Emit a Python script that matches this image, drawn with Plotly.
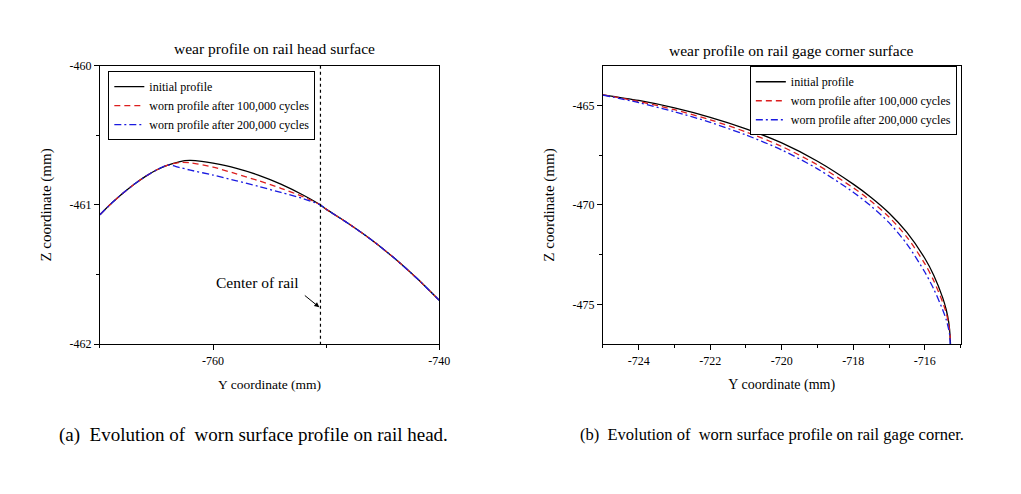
import plotly.graph_objects as go

# ---------------- Left panel: rail head surface ----------------
head_y_init = [-770, -769, -768, -767, -766, -765, -764, -763, -762.5, -762, -761, -760,
               -758, -756, -754, -752, -750.5, -750, -748, -746, -744, -742, -740]
head_z_init = [-461.07, -460.99, -460.918, -460.853, -460.796, -460.749, -460.713, -460.69,
               -460.682, -460.68, -460.687, -460.70, -460.735, -460.785, -460.85, -460.93,
               -461.0, -461.03, -461.135, -461.25, -461.38, -461.525, -461.685]

head_y_100k = [-770, -769, -768, -767, -766, -765, -764, -763, -762, -760,
               -758, -756, -754, -752, -750.5, -750, -748, -746, -744, -742, -740]
head_z_100k = [-461.07, -460.99, -460.918, -460.853, -460.796, -460.749, -460.713, -460.695,
               -460.697, -460.728, -460.775, -460.825, -460.88, -460.942, -461.0,
               -461.03, -461.135, -461.25, -461.38, -461.525, -461.685]

head_y_200k = [-770, -769, -768, -767, -766, -765, -764, -763, -762, -760,
               -758, -756, -754, -752, -750.5, -750, -748, -746, -744, -742, -740]
head_z_200k = [-461.07, -460.99, -460.918, -460.853, -460.796, -460.749, -460.713, -460.73,
               -460.75, -460.785, -460.825, -460.866, -460.91, -460.955, -461.0,
               -461.03, -461.135, -461.25, -461.38, -461.525, -461.685]

rail_center_y = -750.5

# ---------------- Right panel: rail gage corner ----------------
gage_y_init = [-725, -724, -723, -722, -721, -720, -719, -718, -717.5, -717, -716.5, -716,
               -715.75, -715.5, -715.4, -715.33, -715.3, -715.28]
gage_z_init = [-464.46, -464.745, -465.12, -465.59, -466.17, -466.88, -467.80, -468.95,
               -469.62, -470.40, -471.38, -472.68, -473.53, -474.66, -475.27, -475.90,
               -476.40, -477.0]

gage_y_100k = [-725, -724, -723, -722, -721, -720, -719, -718, -717.5, -717, -716.5, -716,
               -715.75, -715.5, -715.4, -715.33, -715.3, -715.28]
gage_z_100k = [-464.46, -464.795, -465.21, -465.717, -466.326, -467.057, -467.986, -469.135,
               -469.81, -470.603, -471.614, -472.949, -473.808, -474.887, -475.43, -475.99,
               -476.43, -477.0]

gage_y_200k = [-725, -724, -723, -722, -721, -720, -719, -718, -717.5, -717, -716.5, -716,
               -715.75, -715.5, -715.4, -715.33, -715.3, -715.29]
gage_z_200k = [-464.47, -464.854, -465.31, -465.844, -466.481, -467.234, -468.184, -469.357,
               -470.06, -470.887, -471.964, -473.372, -474.224, -475.266, -475.77, -476.27,
               -476.6, -477.0]

series_names = ["initial profile",
                "worn profile after 100,000 cycles",
                "worn profile after 200,000 cycles"]

head_xticks = [-760, -740]
head_yticks = [-462, -461, -460]
gage_xticks = [-724, -722, -720, -718, -716]
gage_yticks = [-475, -470, -465]

FONT = "Liberation Serif"
BLACK = "#000000"
RED = "#dc1e1e"
BLUE = "#1a1ae0"
styles = [dict(color=BLACK, width=1.3, dash="solid"),
          dict(color=RED, width=1.3, dash="6px,4px"),
          dict(color=BLUE, width=1.3, dash="7px,3px,2px,3px")]

fig = go.Figure()

left_data = [(head_y_init, head_z_init), (head_y_100k, head_z_100k), (head_y_200k, head_z_200k)]
right_data = [(gage_y_init, gage_z_init), (gage_y_100k, gage_z_100k), (gage_y_200k, gage_z_200k)]

for (xs, zs), name, st in zip(left_data, series_names, styles):
    fig.add_trace(go.Scatter(x=xs, y=zs, mode="lines", name=name,
                             line=dict(st, shape="spline", smoothing=0.8),
                             xaxis="x", yaxis="y", legend="legend"))

for (xs, zs), name, st in zip(right_data, series_names, styles):
    fig.add_trace(go.Scatter(x=xs, y=zs, mode="lines", name=name,
                             line=dict(st, shape="spline", smoothing=0.8),
                             xaxis="x2", yaxis="y2", legend="legend2"))

# Center of rail dotted line
fig.add_trace(go.Scatter(x=[rail_center_y, rail_center_y], y=[-460, -462], mode="lines",
                         line=dict(color=BLACK, width=1.2, dash="dot"), showlegend=False,
                         xaxis="x", yaxis="y", hoverinfo="skip"))


def lab(v):
    return ("%g" % v).replace("\u2212", "-")


axis_common = dict(showgrid=False, zeroline=False, showline=True, linecolor=BLACK,
                   linewidth=1, mirror=True, ticks="outside", ticklen=5, tickwidth=1,
                   tickcolor=BLACK, tickfont=dict(family=FONT, size=12, color=BLACK))

minor_common = dict(ticks="outside", ticklen=3, tickcolor=BLACK, tickwidth=1)

dom_y = [1 - 347 / 494, 1 - 60.5 / 494]

fig.update_layout(
    autosize=True,
    margin=dict(l=0, r=0, t=0, b=0, pad=0),
    paper_bgcolor="white", plot_bgcolor="white",
    font=dict(family=FONT, color=BLACK),
    xaxis=dict(axis_common, domain=[101 / 1021, 444 / 1021], range=[-770, -740],
               tickvals=head_xticks, ticktext=[lab(v) for v in head_xticks],
               minor=dict(minor_common, tickvals=[-770, -750]),
               title=dict(text="Y coordinate (mm)", standoff=12, font=dict(family=FONT, size=13.5, color=BLACK)),
               anchor="y"),
    yaxis=dict(axis_common, domain=dom_y, range=[-462, -460],
               tickvals=head_yticks, ticktext=[lab(v) for v in head_yticks],
               minor=dict(minor_common, tickvals=[-461.5, -460.5]),
               title=dict(text="Z coordinate (mm)", standoff=14, font=dict(family=FONT, size=15, color=BLACK)),
               anchor="x"),
    xaxis2=dict(axis_common, domain=[609.5 / 1021, 971 / 1021], range=[-725, -715],
                tickvals=gage_xticks, ticktext=[lab(v) for v in gage_xticks],
                minor=dict(minor_common, tickvals=[-725, -723, -721, -719, -717, -715]),
                title=dict(text="Y coordinate (mm)", standoff=12, font=dict(family=FONT, size=14, color=BLACK)),
                anchor="y2"),
    yaxis2=dict(axis_common, domain=dom_y, range=[-477, -463],
                tickvals=gage_yticks, ticktext=[lab(v) for v in gage_yticks],
                minor=dict(minor_common, tickvals=[-472.5, -467.5]),
                title=dict(text="Z coordinate (mm)", standoff=14, font=dict(family=FONT, size=15, color=BLACK)),
                anchor="x2"),
    legend=dict(x=109.5 / 1021, y=1 - 66 / 494, xanchor="left", yanchor="top",
                bgcolor="white", bordercolor=BLACK, borderwidth=1,
                font=dict(family=FONT, size=12, color=BLACK), tracegroupgap=0,
                itemwidth=30),
    legend2=dict(x=758 / 1021, y=1 - 61 / 494, xanchor="left", yanchor="top",
                 bgcolor="white", bordercolor=BLACK, borderwidth=1,
                 font=dict(family=FONT, size=12, color=BLACK), tracegroupgap=0,
                 itemwidth=30),
    showlegend=True,
)

annotations = [
    dict(text="wear profile on rail head surface", x=277 / 1021, y=1 - 43 / 494,
         xref="paper", yref="paper", showarrow=False, font=dict(family=FONT, size=15.5, color=BLACK),
         xanchor="center", yanchor="middle"),
    dict(text="wear profile on rail gage corner surface", x=800 / 1021, y=1 - 45 / 494,
         xref="paper", yref="paper", showarrow=False, font=dict(family=FONT, size=15.5, color=BLACK),
         xanchor="center", yanchor="middle"),
    dict(text="Center of rail", x=260 / 1021, y=1 - 284 / 494, xref="paper", yref="paper",
         showarrow=False, font=dict(family=FONT, size=15.5, color=BLACK),
         xanchor="center", yanchor="middle"),
    dict(text="", x=-750.6, y=-461.735, xref="x", yref="y", showarrow=True,
         ax=-16, ay=-13, arrowhead=2, arrowsize=1, arrowwidth=1, arrowcolor=BLACK),
    dict(text="(a)&nbsp; Evolution of&nbsp; worn surface profile on rail head.", x=256 / 1021, y=1 - 440 / 494,
         xref="paper", yref="paper", showarrow=False, font=dict(family=FONT, size=19, color=BLACK),
         xanchor="center", yanchor="middle"),
    dict(text="(b)&nbsp; Evolution of&nbsp; worn surface profile on rail gage corner.", x=780 / 1021, y=1 - 440 / 494,
         xref="paper", yref="paper", showarrow=False, font=dict(family=FONT, size=16.5, color=BLACK),
         xanchor="center", yanchor="middle"),
]
fig.update_layout(annotations=annotations)

post = ("document.documentElement.style.margin='0';document.documentElement.style.padding='0';"
        "document.body.style.margin='0';document.body.style.padding='0';document.body.style.overflow='hidden';"
        "var gd=document.getElementById('{plot_id}');gd.style.width='100vw';gd.style.height='100vh';"
        "Plotly.Plots.resize(gd);")

fig.write_html("out.html", default_width="100vw", default_height="100vh",
               config={"displayModeBar": False, "responsive": True}, post_script=post)
